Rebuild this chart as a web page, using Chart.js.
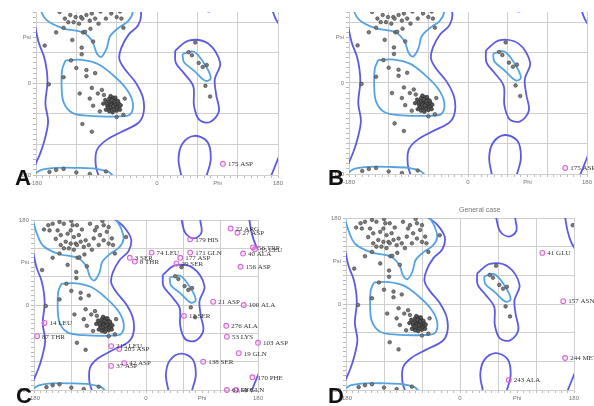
<!DOCTYPE html>
<html>
<head>
<meta charset="utf-8">
<script src="https://cdn.jsdelivr.net/npm/chart.js@4.4.1/dist/chart.umd.min.js"></script>
<style>
  html, body { margin: 0; padding: 0; background: #fff; }
  body { width: 594px; height: 406px; position: relative; overflow: hidden; font-family: "Liberation Sans", Arial, sans-serif; }
  canvas { position: absolute; }
  .letter { position: absolute; font-size: 22px; line-height: 22px; font-weight: bold; color: #111; }
  .title { position: absolute; font-size: 7px; color: #777; }
</style>
</head>
<body>
<canvas id="chartA" width="284" height="183" style="left:6px;top:6px"></canvas>
<canvas id="chartB" width="275" height="182" style="left:319px;top:6px"></canvas>
<canvas id="chartC" width="293" height="190" style="left:4px;top:214px"></canvas>
<canvas id="chartD" width="278" height="192" style="left:316px;top:212px"></canvas>
<div class="title" style="left:459px;top:206px">General case</div>
<div class="letter" style="left:15px;top:167px">A</div>
<div class="letter" style="left:328px;top:167px">B</div>
<div class="letter" style="left:16px;top:385px">C</div>
<div class="letter" style="left:328px;top:385px">D</div>
<script>
// tick labels (phi / psi in degrees)
const xTickLabels = [[-180, "-180"], [0, "0"], [90, "Phi"], [180, "180"]];
const yTickLabels = [[-180, "-180"], [0, "0"], [90, "Psi"], [180, "180"]];

// residues in the core regions [phi, psi]
const betaPoints = [
  [-164,160],[-157,169],[-150,172],[-139,176],[-132,172],[-155,158],[-142,158],[-137,148],
  [-126,151],[-121,158],[-118,169],[-111,169],[-116,144],[-108,148],[-129,134],[-121,130],
  [-113,130],[-111,127],[-105,134],[-100,123],[-137,127],[-132,120],[-124,120],[-116,117],
  [-139,109],[-97,137],[-92,127],[-84,141],[-82,158],[-79,165],[-74,148],[-68,137],
  [-63,155],[-60,130],[-55,141],[-53,127],[-76,127],[-87,117],[-50,109],[-68,169],
  [-126,85],[-95,82],[-32,144],[-145,140],[-103,160],[-90,172],[-120,178],[-70,178],
  [-60,165],[-150,100],[-167,74],[-110,100],[-112,70],[-112,57],[-107,101],[-99,107]
];
const alphaPoints = [
  [-66,-40],[-64,-42],[-68,-38],[-62,-44],[-70,-42],[-60,-38],[-65,-35],[-72,-36],
  [-63,-48],[-67,-46],[-58,-42],[-74,-44],[-61,-33],[-69,-50],[-56,-46],[-64,-37],
  [-71,-30],[-66,-28],[-59,-50],[-75,-39],[-62,-40],[-68,-43],[-65,-45],[-63,-36],
  [-70,-47],[-57,-39],[-73,-49],[-60,-54],[-67,-33],[-77,-33],[-54,-43],[-64,-52],
  [-71,-55],[-58,-35],[-80,-40],[-62,-28],[-69,-25],[-55,-52],[-76,-52],[-66,-57]
];
const otherPoints = [
  [-97,-9],[-82,-13],[-79,-23],[-95,-44],[-105,14],[-105,26],[-139,12],[-161,-2],
  [-88,-20],[-120,30],[-115,-20],[-100,-30],[-85,-55],[-50,-62],[-48,-30],[-92,20],
  [-128,45],[-60,-66],[-97,-95],[-139,-168],[-76,-173],[-150,-170],[-120,-175],
  [-111,-80],[-160,-174],[-100,-178]
];
const leftHandPoints = [[47,61],[57,80],[62,40],[68,32],[72,-5],[79,-26],[52,55],[74,36]];
const extraPointsD = [[178,165]];

// outliers [phi, psi, residue]
const outliersA = [[98, -158, "175 ASP"]];
const outliersB = [[147, -168, "175 ASP"]];
const outliersC = [
  [136,162,"22 ARG"],[147,153,"27 ASP"],[71,139,"179 HIS"],[172,122,"56 TRP"],[175,118,"55 LEU"],
  [156,109,"40 ALA"],[9,111,"74 LEU"],[71,111,"171 GLN"],[55,100,"177 ASP"],[-26,100,"3 SER"],
  [-18,92,"8 THR"],[49,88,"29 SER"],[152,81,"156 ASP"],[108,7,"21 ASP"],[157,0,"100 ALA"],
  [61,-23,"13 SER"],[-163,-38,"14 LEU"],[129,-44,"276 ALA"],[-175,-66,"87 THR"],[130,-67,"53 LYS"],
  [180,-80,"103 ASP"],[-56,-87,"215 LEU"],[-43,-93,"205 ASP"],[149,-102,"19 GLN"],[-35,-123,"42 ASP"],
  [92,-120,"138 SER"],[-56,-129,"37 ASP"],[171,-153,"170 PHE"],[130,-180,"61 LYS"],[145,-180,"98 GLN"]
];
const outliersD = [[130, 107, "41 GLU"], [163, 6, "157 ASN"], [166, -113, "244 MET"], [77, -159, "243 ALA"]];

// contour lines [phi, psi]: allowed (outer) and favoured (inner)
const allowedLeftEdge = [[-181,110],[-176,80],[-168,52],[-164,25],[-163,0],[-166,-40],[-162,-75],[-167,-110],[-173,-135],[-181,-160]];
const allowedMain = [[-50,181],[-36,166],[-24,140],[-28,114],[-42,96],[-53,70],[-56,48],[-48,28],[-32,2],[-21,-28],[-20,-58],[-28,-78],[-54,-96],[-78,-114],[-90,-133],[-91,-162],[-87,-181]];
const allowedLeftHand = [[27,64],[47,84],[76,78],[94,40],[86,8],[88,-22],[92,-55],[79,-76],[63,-72],[55,-44],[54,-6],[40,20],[28,40],[27,64]];
const allowedBottom = [[36,-181],[32,-148],[38,-118],[56,-103],[75,-115],[80,-148],[74,-181]];
const allowedTop = [[57,181],[63,153],[77,141],[89,153],[87,181]];
const allowedRightTop = [[166,181],[170,152],[176,128],[182,115]];
const allowedRightBottom = [[182,-142],[177,-158],[170,-181]];
const favouredTop = [[-181,176],[-175,150],[-165,125],[-140,108],[-110,100],[-96,82],[-90,60],[-83,52],[-75,68],[-70,92],[-58,108],[-43,122],[-36,140],[-40,162],[-48,181]];
const favouredAlpha = [[-136,45],[-112,46],[-88,38],[-67,18],[-46,-10],[-36,-38],[-40,-61],[-58,-65],[-100,-64],[-126,-58],[-139,-37],[-142,-2],[-141,28],[-136,45]];
const favouredLeftHand = [[38,58],[55,62],[72,35],[80,10],[72,5],[55,25],[40,42],[38,58]];
const favouredBottom = [[-181,-177],[-172,-170],[-150,-166],[-120,-166],[-90,-168],[-72,-174],[-66,-181]];

const allowedColor = "#5d5ae3";
const favouredColor = "#55a3e3";

function pts(list) {
  return list.map(p => ({ x: p[0], y: p[1] }));
}

function contour(list, color) {
  return {
    data: pts(list),
    showLine: true,
    borderColor: color,
    borderWidth: 1.8,
    pointRadius: 0,
    tension: 0.35,
    fill: false
  };
}

function labelFor(list) {
  return function (value) {
    const hit = list.find(t => t[0] === value);
    return hit ? hit[1] : "";
  };
}

// draws the residue name to the right of each outlier
const outlierLabels = {
  id: "outlierLabels",
  afterDatasetsDraw(chart) {
    const ctx = chart.ctx;
    chart.data.datasets.forEach((ds, i) => {
      if (!ds.names) return;
      const meta = chart.getDatasetMeta(i);
      ctx.save();
      ctx.font = '7px "Liberation Serif", "DejaVu Serif", serif';
      ctx.fillStyle = "#333";
      ctx.textBaseline = "middle";
      meta.data.forEach((pt, j) => ctx.fillText(ds.names[j], pt.x + 5, pt.y + 0.5));
      ctx.restore();
    });
  }
};

function axis(min, max, labels, isY) {
  return {
    type: "linear",
    min: min,
    max: max,
    ticks: {
      stepSize: 10,
      autoSkip: false,
      maxRotation: 0,
      padding: 2,
      color: "#777",
      font: { size: 6, family: "Liberation Sans" },
      callback: labelFor(labels)
    },
    grid: {
      color: c => (c.tick && c.tick.value % 60 === 0 ? "#cfcfcf" : "rgba(0,0,0,0)"),
      tickColor: "#bbb",
      tickLength: 3,
      lineWidth: 1
    },
    border: { color: "#cfcfcf" },
    afterFit: scale => {
      if (isY) scale.width = 30; else scale.height = 14;
      scale.paddingLeft = 0; scale.paddingRight = 0;
      scale.paddingTop = 0; scale.paddingBottom = 0;
    }
  };
}

function makePanel(id, yMax, outliers, extra, padRight) {
  const general = betaPoints.concat(otherPoints, leftHandPoints, extra);
  new Chart(document.getElementById(id), {
    type: "scatter",
    data: {
      datasets: [
        {
          data: pts(outliers),
          names: outliers.map(o => o[2]),
          pointRadius: 2.4,
          borderColor: "#d66ad6",
          backgroundColor: "rgba(214,106,214,0.15)",
          borderWidth: 1.1,
          clip: false
        },
        {
          data: pts(alphaPoints),
          pointRadius: 1.8,
          backgroundColor: "#555",
          borderColor: "#2a2a2a",
          borderWidth: 0.6
        },
        {
          data: pts(general),
          pointRadius: 1.8,
          backgroundColor: "#7d7d7d",
          borderColor: "#3a3a3a",
          borderWidth: 0.6
        },
        contour(favouredTop, favouredColor),
        contour(favouredAlpha, favouredColor),
        contour(favouredLeftHand, favouredColor),
        contour(favouredBottom, favouredColor),
        contour(allowedLeftEdge, allowedColor),
        contour(allowedMain, allowedColor),
        contour(allowedLeftHand, allowedColor),
        contour(allowedBottom, allowedColor),
        contour(allowedTop, allowedColor),
        contour(allowedRightTop, allowedColor),
        contour(allowedRightBottom, allowedColor)
      ]
    },
    options: {
      responsive: false,
      animation: false,
      events: [],
      layout: { padding: { top: 6, right: padRight, left: 0, bottom: 0 } },
      plugins: { legend: { display: false }, tooltip: { enabled: false } },
      scales: {
        x: axis(-180, 180, xTickLabels, false),
        y: axis(-180, yMax, yTickLabels, true)
      }
    },
    plugins: [outlierLabels]
  });
}

makePanel("chartA", 140, outliersA, [], 12);
makePanel("chartB", 140, outliersB, [], 7);
makePanel("chartC", 180, outliersC, [], 39);
makePanel("chartD", 180, outliersD, extraPointsD, 20);
</script>
</body>
</html>
